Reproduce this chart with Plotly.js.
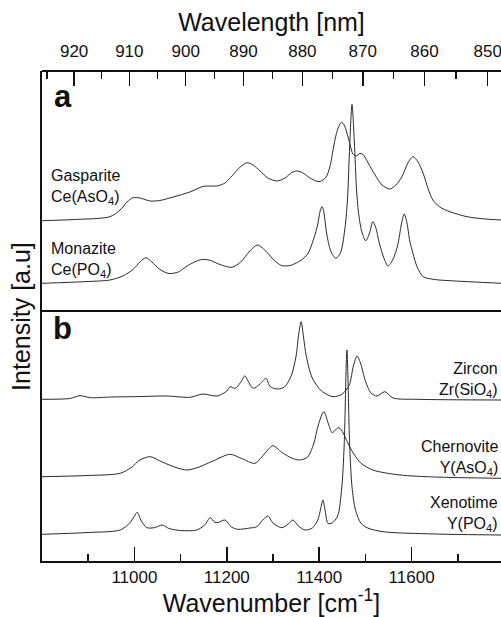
<!DOCTYPE html>
<html>
<head>
<meta charset="utf-8">
<script src="https://cdn.plot.ly/plotly-3.0.1.min.js"></script>
<style>
html,body{margin:0;padding:0;background:#fff;}
#chart{width:501px;height:617px;}
</style>
</head>
<body>
<div id="chart"></div>
<script>
// ---- Panel a (wavenumber cm^-1, intensity a.u. with vertical offsets as drawn) ----
const gaspariteWn = [10800,10870,10947,10969,10984,10997,11012,11034,11055,11084,11120,11148,11164,11179,11196,11211,11229,11244,11257,11272,11289,11309,11326,11341,11352,11365,11380,11393,11402,11415,11423,11434,11441,11448,11454,11460,11467,11473,11480,11488,11495,11506,11521,11536,11553,11566,11579,11592,11603,11614,11625,11636,11646,11661,11683,11720,11759,11794];
const gaspariteInt = [90.3,91.5,94.3,101,109,113.3,113,110,110.5,114,119,124.5,125,125,128,135,144,148.3,146,140,133,130,133,138.5,140,138,133,130,129.5,134,144,171,183,188.7,186,178,166,157,155,157.5,156.5,148,136,126,122,126,134.3,148,154.3,149,137.7,122,111,104,99.3,94.3,92,91];

const monaziteWn = [10800,10900,10947,10975,10997,11012,11025,11038,11055,11075,11095,11114,11135,11150,11165,11185,11211,11230,11250,11266,11280,11300,11318,11337,11358,11375,11388,11397,11402,11406,11410,11416,11425,11436,11446,11455,11461,11466,11471,11476,11481,11486,11493,11501,11509,11516,11522,11530,11540,11549,11560,11570,11578,11584,11590,11596,11603,11612,11625,11650,11683,11794];
const monaziteInt = [27.7,29.5,31,35,41.5,49,53.3,49,41.5,37.5,39,45,50,51.7,50.5,46.5,43.7,49,60,66,62,52,45.5,45.5,50,57,72,87,100,104.3,99,78,60,52.7,58,80,110,165,206.7,170,120,95,78,70.3,78,89.3,84,68,53,45,52,66,87,97,88,70,57.7,44,34.3,31.5,30.3,27.7];

// ---- Panel b ----
const zirconWn = [10800,10860,10882,10905,10950,11000,11071,11120,11148,11179,11200,11207,11218,11232,11239,11246,11257,11272,11285,11294,11310,11325,11340,11350,11356,11361,11366,11372,11385,11405,11430,11450,11465,11474,11482,11490,11500,11512,11525,11542,11560,11612,11794];
const zirconInt = [161.7,162.5,165.3,163.3,164,164.3,165,163.7,167,165,170,174.3,172.7,180,185.3,180,172.7,177,182.7,174.3,172,174,186,205,228,239.3,224,205,183,170,164.3,167,176,195,205,197,180,168,165,169.3,163,161.7,161];

const chernoviteWn = [10800,10900,10969,10995,11010,11034,11060,11090,11114,11140,11170,11207,11232,11261,11283,11300,11318,11340,11358,11375,11388,11398,11410,11420,11428,11436,11443,11452,11462,11475,11490,11516,11575,11650,11794];
const chernoviteInt = [84.3,85.5,87.7,94,100.5,104.3,99,93.5,91,94,100,106.7,102.5,97.7,108,115.3,109,103,101,104,117,136,149.3,137,128.3,131.5,133.3,128,118,107,98,91,86,84,82.7];

const xenotimeWn = [10800,10900,10969,10990,11000,11006,11015,11027,11045,11060,11075,11100,11135,11152,11164,11173,11181,11188,11196,11210,11224,11250,11265,11280,11289,11300,11319,11333,11343,11355,11369,11385,11397,11403,11408,11413,11419,11428,11440,11449,11454,11460,11466,11471,11478,11490,11505,11538,11650,11794];
const xenotimeInt = [26.7,28.5,31,38,45,48.7,40,33.3,33.5,36,32.5,30.5,31,36,43.3,39,38.3,40,41,34,31.7,33,34.3,42,45,38,33.3,37,41,35,31,33,41,52,61,50,37.7,38,45,74.3,115,211,115,74.3,52,38,33,29.3,27,26];

// ---- Axes tick labels ----
const wnTicks = [11000,11200,11400,11600];
const wnMinor = [10900,11100,11300,11500,11700];
const nmTicks = [920,910,900,890,880,870,860,850];
const nmMinor = [925,915,905,895,885,875,865,855];

const lineStyle = {color:'#2a2a2a', width:1, shape:'spline', smoothing:0.8};
function tr(x, y, ya){ return {x:x, y:y, xaxis:'x', yaxis:ya, type:'scatter', mode:'lines', line:lineStyle, hoverinfo:'skip', showlegend:false}; }

const data = [
  tr(gaspariteWn, gaspariteInt, 'y'),
  tr(monaziteWn, monaziteInt, 'y'),
  tr(zirconWn, zirconInt, 'y2'),
  tr(chernoviteWn, chernoviteInt, 'y2'),
  tr(xenotimeWn, xenotimeInt, 'y2'),
  // invisible trace to register the top axis
  {x:[10800], y:[0], xaxis:'x2', yaxis:'y', mode:'markers', marker:{opacity:0}, hoverinfo:'skip', showlegend:false}
];

const XR = [10800, 11793.5];
const split = 250/490;
const font = 'Liberation Sans, Arial, Helvetica, sans-serif';

const layout = {
  width:501, height:617,
  margin:{l:42, r:0, t:71, b:56},
  paper_bgcolor:'#fff', plot_bgcolor:'#fff',
  font:{family:font, color:'#111'},
  showlegend:false,
  xaxis:{
    domain:[0,1], anchor:'y2', range:XR, showgrid:false, zeroline:false,
    showline:true, linecolor:'#111', linewidth:2,
    ticks:'inside', ticklen:14, tickwidth:1.5, tickcolor:'#111',
    tickmode:'array', tickvals:wnTicks, ticktext:wnTicks.map(String),
    minor:{tickmode:'array', tickvals:wnMinor, ticks:'inside', ticklen:7, tickwidth:1.5, tickcolor:'#111', showgrid:false},
    tickfont:{size:17, family:font, color:'#111'},
    ticklabeloverflow:'allow',
    title:{text:'Wavenumber [cm<sup>-1</sup>]', font:{size:25, family:font, color:'#111'}, standoff:3}
  },
  xaxis2:{
    overlaying:'x', anchor:'free', position:1, side:'top', range:XR, showgrid:false, zeroline:false,
    showline:true, linecolor:'#111', linewidth:2,
    ticks:'inside', ticklen:14, tickwidth:1.5, tickcolor:'#111',
    tickmode:'array', tickvals:nmTicks.map(v=>1e7/v), ticktext:nmTicks.map(String),
    minor:{tickmode:'array', tickvals:nmMinor.map(v=>1e7/v), ticks:'inside', ticklen:7, tickwidth:1.5, tickcolor:'#111', showgrid:false},
    tickfont:{size:17, family:font, color:'#111'},
    ticklabeloverflow:'allow',
    ticklabelstandoff:6,
    title:{text:'Wavelength [nm]', font:{size:25, family:font, color:'#111'}, standoff:2}
  },
  yaxis:{domain:[split,1], anchor:'x', range:[0,240], showgrid:false, zeroline:false, showticklabels:false, ticks:'', showline:true, linecolor:'#111', linewidth:2},
  yaxis2:{domain:[0,split], anchor:'x', range:[0,250], showgrid:false, zeroline:false, showticklabels:false, ticks:'', showline:true, linecolor:'#111', linewidth:2},
  shapes:[
    {type:'line', xref:'paper', yref:'paper', x0:0, x1:1, y0:split, y1:split, line:{color:'#111', width:2}}
  ],
  annotations:[
    {text:'Intensity [a.u]', xref:'paper', yref:'paper', x:-0.046, y:0.5, textangle:-90, showarrow:false, xanchor:'center', yanchor:'middle', font:{size:25, family:font, color:'#111'}},
    {text:'<b>a</b>', xref:'paper', yref:'paper', x:(52-42)/459, y:(561-97)/490, xanchor:'left', yanchor:'middle', showarrow:false, font:{size:31, family:font, color:'#111'}},
    {text:'<b>b</b>', xref:'paper', yref:'paper', x:(51-42)/459, y:(561-328)/490, xanchor:'left', yanchor:'middle', showarrow:false, font:{size:31, family:font, color:'#111'}},
    {text:'Gasparite<br>Ce(AsO<sub>4</sub>)', xref:'paper', yref:'paper', x:(49-42)/459, y:(561-187)/490, xanchor:'left', yanchor:'middle', align:'left', showarrow:false, font:{size:16, family:font, color:'#111'}},
    {text:'Monazite<br>Ce(PO<sub>4</sub>)', xref:'paper', yref:'paper', x:(49-42)/459, y:(561-260)/490, xanchor:'left', yanchor:'middle', align:'left', showarrow:false, font:{size:16, family:font, color:'#111'}},
    {text:'Zircon<br>Zr(SiO<sub>4</sub>)', xref:'paper', yref:'paper', x:(500-42)/459, y:(561-380)/490, xanchor:'right', yanchor:'middle', align:'right', showarrow:false, font:{size:16, family:font, color:'#111'}},
    {text:'Chernovite<br>Y(AsO<sub>4</sub>)', xref:'paper', yref:'paper', x:(500-42)/459, y:(561-458)/490, xanchor:'right', yanchor:'middle', align:'right', showarrow:false, font:{size:16, family:font, color:'#111'}},
    {text:'Xenotime<br>Y(PO<sub>4</sub>)', xref:'paper', yref:'paper', x:(500-42)/459, y:(561-514)/490, xanchor:'right', yanchor:'middle', align:'right', showarrow:false, font:{size:16, family:font, color:'#111'}}
  ]
};

Plotly.newPlot('chart', data, layout, {staticPlot:true, displayModeBar:false});
</script>
</body>
</html>
